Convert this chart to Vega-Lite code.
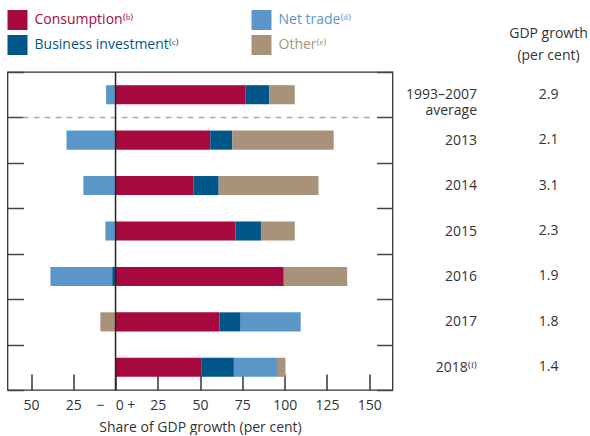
{
  "$schema": "https://vega.github.io/schema/vega-lite/v6.json",
  "padding": {"left": 5.5, "top": 10, "right": 0, "bottom": 0},
  "background": "white",
  "config": {"font": "Open Sans", "view": {"stroke": null}},
  "datasets": {
    "shares": [
      {"period": "1993–2007 average", "component": "Consumption", "ord": 1, "share": 77},
      {"period": "1993–2007 average", "component": "Business investment", "ord": 2, "share": 14},
      {"period": "1993–2007 average", "component": "Net trade", "ord": 3, "share": -5.6},
      {"period": "1993–2007 average", "component": "Other", "ord": 4, "share": 15},
      {"period": "2013", "component": "Consumption", "ord": 1, "share": 56},
      {"period": "2013", "component": "Business investment", "ord": 2, "share": 13},
      {"period": "2013", "component": "Net trade", "ord": 3, "share": -29},
      {"period": "2013", "component": "Other", "ord": 4, "share": 60},
      {"period": "2014", "component": "Consumption", "ord": 1, "share": 46},
      {"period": "2014", "component": "Business investment", "ord": 2, "share": 15},
      {"period": "2014", "component": "Net trade", "ord": 3, "share": -19},
      {"period": "2014", "component": "Other", "ord": 4, "share": 59},
      {"period": "2015", "component": "Consumption", "ord": 1, "share": 71},
      {"period": "2015", "component": "Business investment", "ord": 2, "share": 15},
      {"period": "2015", "component": "Net trade", "ord": 3, "share": -6},
      {"period": "2015", "component": "Other", "ord": 4, "share": 20},
      {"period": "2016", "component": "Consumption", "ord": 1, "share": 99.5},
      {"period": "2016", "component": "Business investment", "ord": 2, "share": -2},
      {"period": "2016", "component": "Net trade", "ord": 3, "share": -36.5},
      {"period": "2016", "component": "Other", "ord": 4, "share": 37.5},
      {"period": "2017", "component": "Consumption", "ord": 1, "share": 61.5},
      {"period": "2017", "component": "Business investment", "ord": 2, "share": 12.5},
      {"period": "2017", "component": "Net trade", "ord": 3, "share": 35.5},
      {"period": "2017", "component": "Other", "ord": 4, "share": -9},
      {"period": "2018", "component": "Consumption", "ord": 1, "share": 51},
      {"period": "2018", "component": "Business investment", "ord": 2, "share": 19},
      {"period": "2018", "component": "Net trade", "ord": 3, "share": 25.5},
      {"period": "2018", "component": "Other", "ord": 4, "share": 5}
    ],
    "growth": [
      {"period": "1993–2007 average", "growth": 2.9},
      {"period": "2013", "growth": 2.1},
      {"period": "2014", "growth": 3.1},
      {"period": "2015", "growth": 2.3},
      {"period": "2016", "growth": 1.9},
      {"period": "2017", "growth": 1.8},
      {"period": "2018", "growth": 1.4}
    ]
  },
  "bounds": "flush",
  "spacing": 88,
  "hconcat": [
    {
      "width": 385,
      "height": 318,
      "data": {"name": "shares"},
      "view": {"stroke": "#333", "strokeWidth": 1.3},
      "layer": [
        {
          "mark": {"type": "bar", "height": {"band": 0.42}},
          "encoding": {
            "y": {
              "field": "period", "type": "nominal",
              "scale": {"domain": ["1993–2007 average", "2013", "2014", "2015", "2016", "2017", "2018"], "paddingInner": 0, "paddingOuter": 0},
              "axis": {"orient": "left", "labels": false, "title": null, "domain": false, "grid": false, "tickBand": "extent", "tickSize": -16, "tickColor": "#444", "tickWidth": 1.5}
            },
            "x": {
              "field": "share", "type": "quantitative", "stack": "zero",
              "scale": {"domain": [-63.9, 163.8], "nice": false, "zero": false},
              "axis": {
                "orient": "bottom", "values": [-50, -25, 0, 25, 50, 75, 100, 125, 150],
                "labelExpr": "datum.value < 0 ? format(-datum.value, 'd') : (datum.value == 0 ? '−\u00a0\u00a0\u00a00\u00a0+' : format(datum.value, 'd'))",
                "tickSize": -16, "tickColor": "#333", "tickWidth": 1.5, "domain": false, "grid": false,
                "labelPadding": 24, "labelFontSize": 14, "labelColor": "#333", "labelFlush": false, "labelOverlap": false,
                "title": "Share of GDP growth (per cent)", "titleFontSize": 14, "titleFontWeight": "normal", "titleColor": "#333", "titlePadding": 8
              }
            },
            "color": {
              "field": "component", "type": "nominal",
              "scale": {"domain": ["Consumption", "Business investment", "Net trade", "Other"], "range": ["#a6093d", "#005689", "#5a96c8", "#a8927a"]},
              "legend": {
                "orient": "none", "legendX": 0, "legendY": -62, "columns": 2, "title": null,
                "symbolType": "square", "symbolSize": 400, "symbolStrokeWidth": 0, "symbolOpacity": 1,
                "labelFontSize": 14, "labelOffset": 7, "columnPadding": 72, "rowPadding": 5, "labelLimit": 300,
                "labelExpr": "datum.value == 'Consumption' ? 'Consumption⁽ᵇ⁾' : (datum.value == 'Business investment' ? 'Business investment⁽ᶜ⁾' : (datum.value == 'Net trade' ? 'Net trade⁽ᵈ⁾' : 'Other⁽ᵉ⁾'))",
                "encode": {"labels": {"update": {"fill": {"scale": "color", "field": "value"}}}}
              }
            },
            "order": {"field": "ord", "type": "quantitative"}
          }
        },
        {
          "transform": [{"filter": "datum.component === 'Consumption' && datum.period === '1993–2007 average'"}],
          "mark": {"type": "rule", "strokeDash": [6, 5], "color": "#aaa", "strokeWidth": 1.5},
          "encoding": {
            "y": {
              "field": "period", "type": "nominal", "bandPosition": 1,
              "axis": {"orient": "right", "labels": false, "title": null, "domain": false, "grid": false, "tickBand": "extent", "tickSize": -16, "tickColor": "#444", "tickWidth": 1.5}
            },
            "x": {"datum": -55},
            "x2": {"datum": 151}
          }
        },
        {
          "transform": [{"filter": "datum.component === 'Consumption' && datum.period === '2013'"}],
          "mark": {"type": "rule", "color": "#222", "strokeWidth": 1.5},
          "encoding": {"x": {"datum": 0}}
        }
      ],
      "resolve": {"axis": {"y": "independent"}}
    },
    {
      "width": 78,
      "height": 318,
      "data": {"name": "growth"},
      "title": {"text": ["GDP growth", "(per cent)"], "fontSize": 14, "fontWeight": "normal", "color": "#333", "anchor": "middle", "frame": "group", "dx": 29, "offset": 9, "lineHeight": 22},
      "mark": {"type": "text", "fontSize": 14, "color": "#333", "align": "right", "x": "width"},
      "encoding": {
        "y": {
          "field": "period", "type": "nominal",
          "scale": {"domain": ["1993–2007 average", "2013", "2014", "2015", "2016", "2017", "2018"], "paddingInner": 0, "paddingOuter": 0},
          "axis": {
            "orient": "left", "ticks": false, "domain": false, "grid": false, "title": null,
            "labelPadding": 4, "labelFontSize": 14, "labelColor": "#333", "labelLimit": 200, "labelLineHeight": 16,
            "labelExpr": "datum.value == '1993–2007 average' ? ['1993–2007', 'average'] : (datum.value == '2018' ? '2018⁽ᶠ⁾' : datum.value)",
            "encode": {"labels": {"update": {"dy": {"signal": "datum.value == '1993–2007 average' ? 8 : 0"}}}}
          }
        },
        "text": {"field": "growth", "type": "quantitative", "format": ".1f"}
      }
    }
  ]
}
